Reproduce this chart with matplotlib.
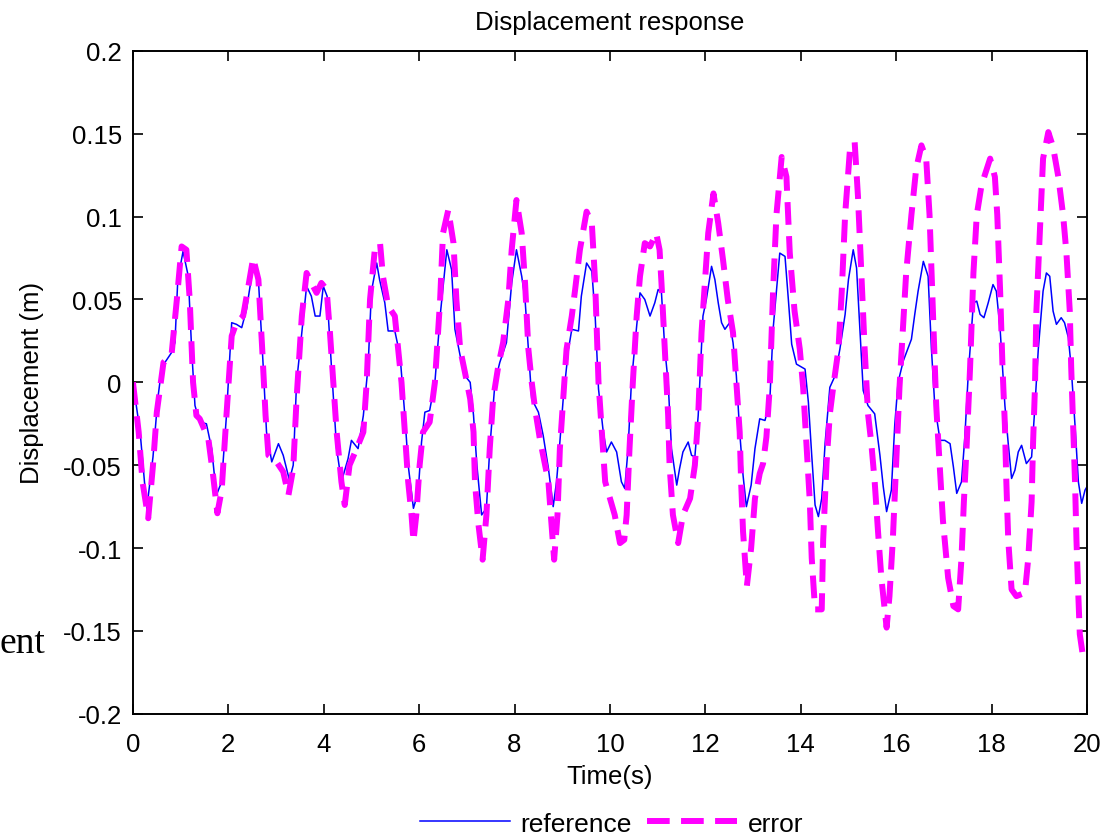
import numpy as np
import matplotlib.pyplot as plt

plt.rcParams['font.family'] = ['Liberation Sans', 'DejaVu Sans']
plt.rcParams['axes.unicode_minus'] = False

# reference response (blue)
ref_t = [0, 0.15, 0.29, 0.42, 0.52, 0.6, 0.67, 0.81, 0.88, 0.94, 1.05, 1.16, 1.23, 1.30, 1.40, 1.54, 1.65, 1.75, 1.86, 1.96,
         2.07, 2.17, 2.28, 2.38, 2.52, 2.63, 2.73, 2.80, 2.91, 3.05, 3.15, 3.28, 3.36, 3.43, 3.54, 3.64, 3.74, 3.82, 3.92, 3.99,
         4.07, 4.16, 4.27, 4.37, 4.51, 4.58, 4.72, 4.83, 4.93, 5.00, 5.11, 5.17, 5.28, 5.35, 5.49, 5.60, 5.70, 5.77, 5.88, 5.98,
         6.05, 6.12, 6.22, 6.33, 6.44, 6.58, 6.68, 6.75, 6.86, 6.96, 7.07, 7.14, 7.21, 7.31, 7.41, 7.48, 7.59, 7.69, 7.83, 7.94,
         8.04, 8.15, 8.22, 8.29, 8.36, 8.50, 8.60, 8.71, 8.81, 8.88, 8.95, 9.02, 9.13, 9.20, 9.34, 9.40, 9.51, 9.62, 9.69, 9.76,
         9.86, 9.93, 10.03, 10.14, 10.24, 10.31, 10.38, 10.45, 10.56, 10.63, 10.73, 10.84, 10.94, 11.01, 11.08, 11.15, 11.22, 11.29, 11.40, 11.46,
         11.53, 11.64, 11.71, 11.78, 11.85, 11.95, 12.02, 12.13, 12.20, 12.27, 12.34, 12.41, 12.51, 12.58, 12.65, 12.72, 12.79, 12.86, 12.96, 13.04,
         13.14, 13.25, 13.35, 13.42, 13.49, 13.56, 13.67, 13.74, 13.81, 13.91, 14.09, 14.16, 14.23, 14.30, 14.37, 14.44, 14.51, 14.61, 14.72, 14.82,
         14.93, 15.00, 15.10, 15.17, 15.24, 15.31, 15.41, 15.55, 15.66, 15.73, 15.80, 15.90, 15.97, 16.04, 16.15, 16.32, 16.39, 16.46, 16.57, 16.67,
         16.74, 16.81, 16.92, 17.02, 17.13, 17.20, 17.27, 17.37, 17.44, 17.51, 17.62, 17.69, 17.76, 17.84, 17.93, 18.03, 18.10, 18.18, 18.28, 18.35,
         18.42, 18.49, 18.56, 18.63, 18.73, 18.84, 18.91, 18.98, 19.08, 19.15, 19.22, 19.29, 19.36, 19.46, 19.53, 19.61, 19.67, 19.75, 19.82, 19.89,
         19.96, 20.0]
ref_v = [0.0, -0.030, -0.076, -0.045, -0.010, 0.008, 0.012, 0.018, 0.024, 0.062, 0.079, 0.064, 0.020, -0.014, -0.024, -0.025, -0.040, -0.068, -0.060, -0.020,
         0.036, 0.035, 0.033, 0.044, 0.070, 0.062, 0.010, -0.030, -0.048, -0.037, -0.044, -0.059, -0.050, 0.0, 0.030, 0.058, 0.052, 0.040, 0.040, 0.058,
         0.052, 0.010, -0.040, -0.060, -0.046, -0.035, -0.040, -0.020, 0.010, 0.055, 0.072, 0.062, 0.048, 0.031, 0.031, 0.016, -0.020, -0.050, -0.076, -0.066,
         -0.036, -0.018, -0.017, 0.0, 0.040, 0.080, 0.068, 0.032, 0.016, 0.004, 0.0, -0.020, -0.050, -0.080, -0.076, -0.040, 0.0, 0.012, 0.024, 0.060,
         0.080, 0.064, 0.050, 0.020, -0.010, -0.018, -0.032, -0.052, -0.075, -0.060, -0.036, -0.010, 0.020, 0.032, 0.031, 0.052, 0.072, 0.067, 0.040, -0.004,
         -0.030, -0.042, -0.036, -0.042, -0.060, -0.064, -0.040, 0.0, 0.034, 0.054, 0.050, 0.040, 0.048, 0.056, 0.054, 0.020, 0.0, -0.040, -0.062, -0.052,
         -0.042, -0.036, -0.044, -0.045, -0.020, 0.040, 0.050, 0.070, 0.062, 0.048, 0.036, 0.032, 0.036, 0.024, 0.004, -0.030, -0.056, -0.075, -0.062, -0.040,
         -0.022, -0.023, -0.012, 0.032, 0.055, 0.078, 0.076, 0.050, 0.023, 0.011, 0.008, -0.012, -0.044, -0.074, -0.081, -0.070, -0.037, -0.003, 0.004, 0.020,
         0.041, 0.062, 0.080, 0.069, 0.032, -0.005, -0.014, -0.019, -0.044, -0.063, -0.078, -0.065, -0.026, 0.0, 0.013, 0.026, 0.041, 0.055, 0.073, 0.064,
         0.020, -0.014, -0.035, -0.035, -0.037, -0.051, -0.067, -0.060, -0.033, 0.004, 0.048, 0.049, 0.041, 0.039, 0.048, 0.059, 0.055, 0.032, -0.014, -0.037,
         -0.058, -0.053, -0.042, -0.038, -0.049, -0.045, -0.014, 0.020, 0.055, 0.066, 0.064, 0.043, 0.035, 0.039, 0.036, 0.027, 0.009, -0.026, -0.060, -0.073,
         -0.065, -0.063]

# error response (magenta dashed)
err_t = [0, 0.12, 0.2, 0.32, 0.42, 0.50, 0.64, 0.81, 0.92, 1.02, 1.12, 1.19, 1.26, 1.33, 1.40, 1.58, 1.68, 1.77, 1.86, 1.96,
         2.07, 2.17, 2.31, 2.42, 2.52, 2.63, 2.71, 2.78, 2.84, 3.01, 3.15, 3.26, 3.36, 3.43, 3.54, 3.64, 3.74, 3.85, 3.95, 4.06,
         4.13, 4.20, 4.27, 4.37, 4.44, 4.54, 4.69, 4.83, 4.90, 4.97, 5.07, 5.18, 5.24, 5.35, 5.49, 5.56, 5.63, 5.70, 5.77, 5.84,
         5.88, 5.94, 6.01, 6.08, 6.22, 6.33, 6.44, 6.50, 6.61, 6.72, 6.78, 6.86, 6.96, 7.07, 7.14, 7.17, 7.24, 7.33, 7.41, 7.48,
         7.55, 7.66, 7.76, 7.87, 7.94, 8.04, 8.15, 8.22, 8.29, 8.36, 8.43, 8.53, 8.60, 8.71, 8.76, 8.83, 8.90, 8.95, 9.02, 9.09,
         9.20, 9.27, 9.37, 9.51, 9.62, 9.69, 9.76, 9.83, 9.90, 10.0, 10.10, 10.21, 10.30, 10.35, 10.41, 10.48, 10.56, 10.63, 10.73, 10.84,
         10.97, 11.04, 11.08, 11.15, 11.22, 11.25, 11.32, 11.43, 11.53, 11.68, 11.78, 11.85, 11.92, 11.99, 12.06, 12.17, 12.27, 12.37, 12.47, 12.58,
         12.65, 12.72, 12.75, 12.79, 12.87, 12.96, 13.04, 13.14, 13.21, 13.28, 13.35, 13.42, 13.49, 13.60, 13.70, 13.77, 13.87, 13.98, 14.05, 14.12,
         14.19, 14.23, 14.30, 14.44, 14.47, 14.54, 14.61, 14.68, 14.79, 14.86, 14.93, 15.03, 15.13, 15.20, 15.27, 15.34, 15.41, 15.48, 15.55, 15.62,
         15.69, 15.80, 15.86, 15.93, 16.00, 16.07, 16.14, 16.21, 16.32, 16.42, 16.53, 16.63, 16.70, 16.77, 16.84, 16.91, 16.98, 17.09, 17.20, 17.30,
         17.37, 17.42, 17.48, 17.55, 17.62, 17.69, 17.79, 17.97, 18.07, 18.12, 18.18, 18.23, 18.28, 18.31, 18.35, 18.42, 18.52, 18.70, 18.77, 18.84,
         18.87, 18.91, 18.94, 19.01, 19.08, 19.19, 19.29, 19.40, 19.50, 19.57, 19.64, 19.67, 19.71, 19.75, 19.78, 19.82, 19.85, 19.92, 20.0]
err_v = [0.0, -0.030, -0.060, -0.082, -0.050, -0.018, 0.012, 0.017, 0.050, 0.082, 0.080, 0.050, 0.0, -0.020, -0.022, -0.034, -0.056, -0.079, -0.065, -0.020,
         0.028, 0.036, 0.040, 0.058, 0.075, 0.062, 0.020, -0.020, -0.044, -0.048, -0.054, -0.068, -0.052, -0.010, 0.040, 0.066, 0.060, 0.054, 0.060, 0.056,
         0.030, 0.0, -0.030, -0.060, -0.074, -0.050, -0.040, -0.030, 0.0, 0.050, 0.080, 0.084, 0.064, 0.046, 0.040, 0.020, 0.0, -0.030, -0.060, -0.080,
         -0.096, -0.080, -0.050, -0.030, -0.024, 0.0, 0.050, 0.090, 0.104, 0.084, 0.050, 0.020, 0.006, -0.010, -0.030, -0.060, -0.085, -0.107, -0.080, -0.040,
         -0.010, 0.010, 0.024, 0.050, 0.080, 0.110, 0.090, 0.060, 0.020, 0.0, -0.016, -0.034, -0.044, -0.060, -0.080, -0.107, -0.080, -0.040, -0.010, 0.020,
         0.040, 0.056, 0.080, 0.103, 0.096, 0.060, 0.0, -0.030, -0.060, -0.070, -0.080, -0.097, -0.095, -0.080, -0.040, 0.0, 0.040, 0.064, 0.084, 0.082,
         0.090, 0.080, 0.060, 0.020, -0.020, -0.050, -0.080, -0.097, -0.080, -0.070, -0.050, -0.020, 0.030, 0.060, 0.090, 0.114, 0.096, 0.074, 0.050, 0.030,
         0.0, -0.030, -0.060, -0.090, -0.123, -0.100, -0.070, -0.055, -0.049, -0.033, -0.003, 0.055, 0.101, 0.136, 0.124, 0.078, 0.043, 0.020, -0.003, -0.037,
         -0.072, -0.106, -0.137, -0.137, -0.095, -0.049, -0.019, -0.003, 0.020, 0.055, 0.101, 0.140, 0.145, 0.112, 0.066, 0.020, -0.019, -0.037, -0.060, -0.090,
         -0.118, -0.148, -0.129, -0.095, -0.049, -0.003, 0.032, 0.066, 0.101, 0.129, 0.143, 0.135, 0.101, 0.043, -0.014, -0.049, -0.083, -0.118, -0.135, -0.137,
         -0.106, -0.072, -0.037, 0.009, 0.066, 0.101, 0.119, 0.135, 0.124, 0.101, 0.055, 0.009, -0.026, -0.060, -0.095, -0.125, -0.129, -0.127, -0.106, -0.072,
         -0.037, -0.003, 0.043, 0.089, 0.135, 0.151, 0.142, 0.124, 0.101, 0.078, 0.043, 0.009, -0.026, -0.060, -0.095, -0.129, -0.152, -0.166, -0.168]

xticks = [0, 2, 4, 6, 8, 10, 12, 14, 16, 18, 20]
yticks = [-0.2, -0.15, -0.1, -0.05, 0, 0.05, 0.1, 0.15, 0.2]
ytick_labels = ['-0.2', '-0.15', '-0.1', '-0.05', '0', '0.05', '0.1', '0.15', '0.2']

fig = plt.figure(figsize=(11.08, 8.37), dpi=100)
ax = fig.add_axes([0.12, 0.146, 0.861, 0.792])

ax.plot(ref_t, ref_v, color='#0000ff', lw=1.1, label='reference')
ax.plot(err_t, err_v, color='#ff00ff', lw=4.3, ls=(0, (3.8, 1.9)), label='error')

ax.set_xlim(0, 20)
ax.set_ylim(-0.2, 0.2)
ax.set_xticks(xticks)
ax.set_yticks(yticks)
ax.set_yticklabels(ytick_labels)
ax.tick_params(direction='in', length=7, width=1.2, top=True, right=True,
               labelsize=18.5, pad=8)
ax.tick_params(axis='x', pad=13)
for s in ax.spines.values():
    s.set_linewidth(1.4)

ax.set_title('Displacement response', fontsize=18.5, pad=16)
ax.set_xlabel('Time(s)', fontsize=18.5, labelpad=6)
ax.set_ylabel('Displacement (m)', fontsize=18.5, labelpad=14)

fig.legend(loc='lower center', bbox_to_anchor=(0.552, -0.028), ncol=2, frameon=False,
           fontsize=19, handlelength=3.4, handletextpad=0.4, columnspacing=0.6)

fig.text(0.041, 1 - 653 / 837, 'ent', ha='right', va='baseline', fontsize=27,
         family=['Liberation Serif', 'DejaVu Serif'])

fig.savefig('out.png', dpi=100)
